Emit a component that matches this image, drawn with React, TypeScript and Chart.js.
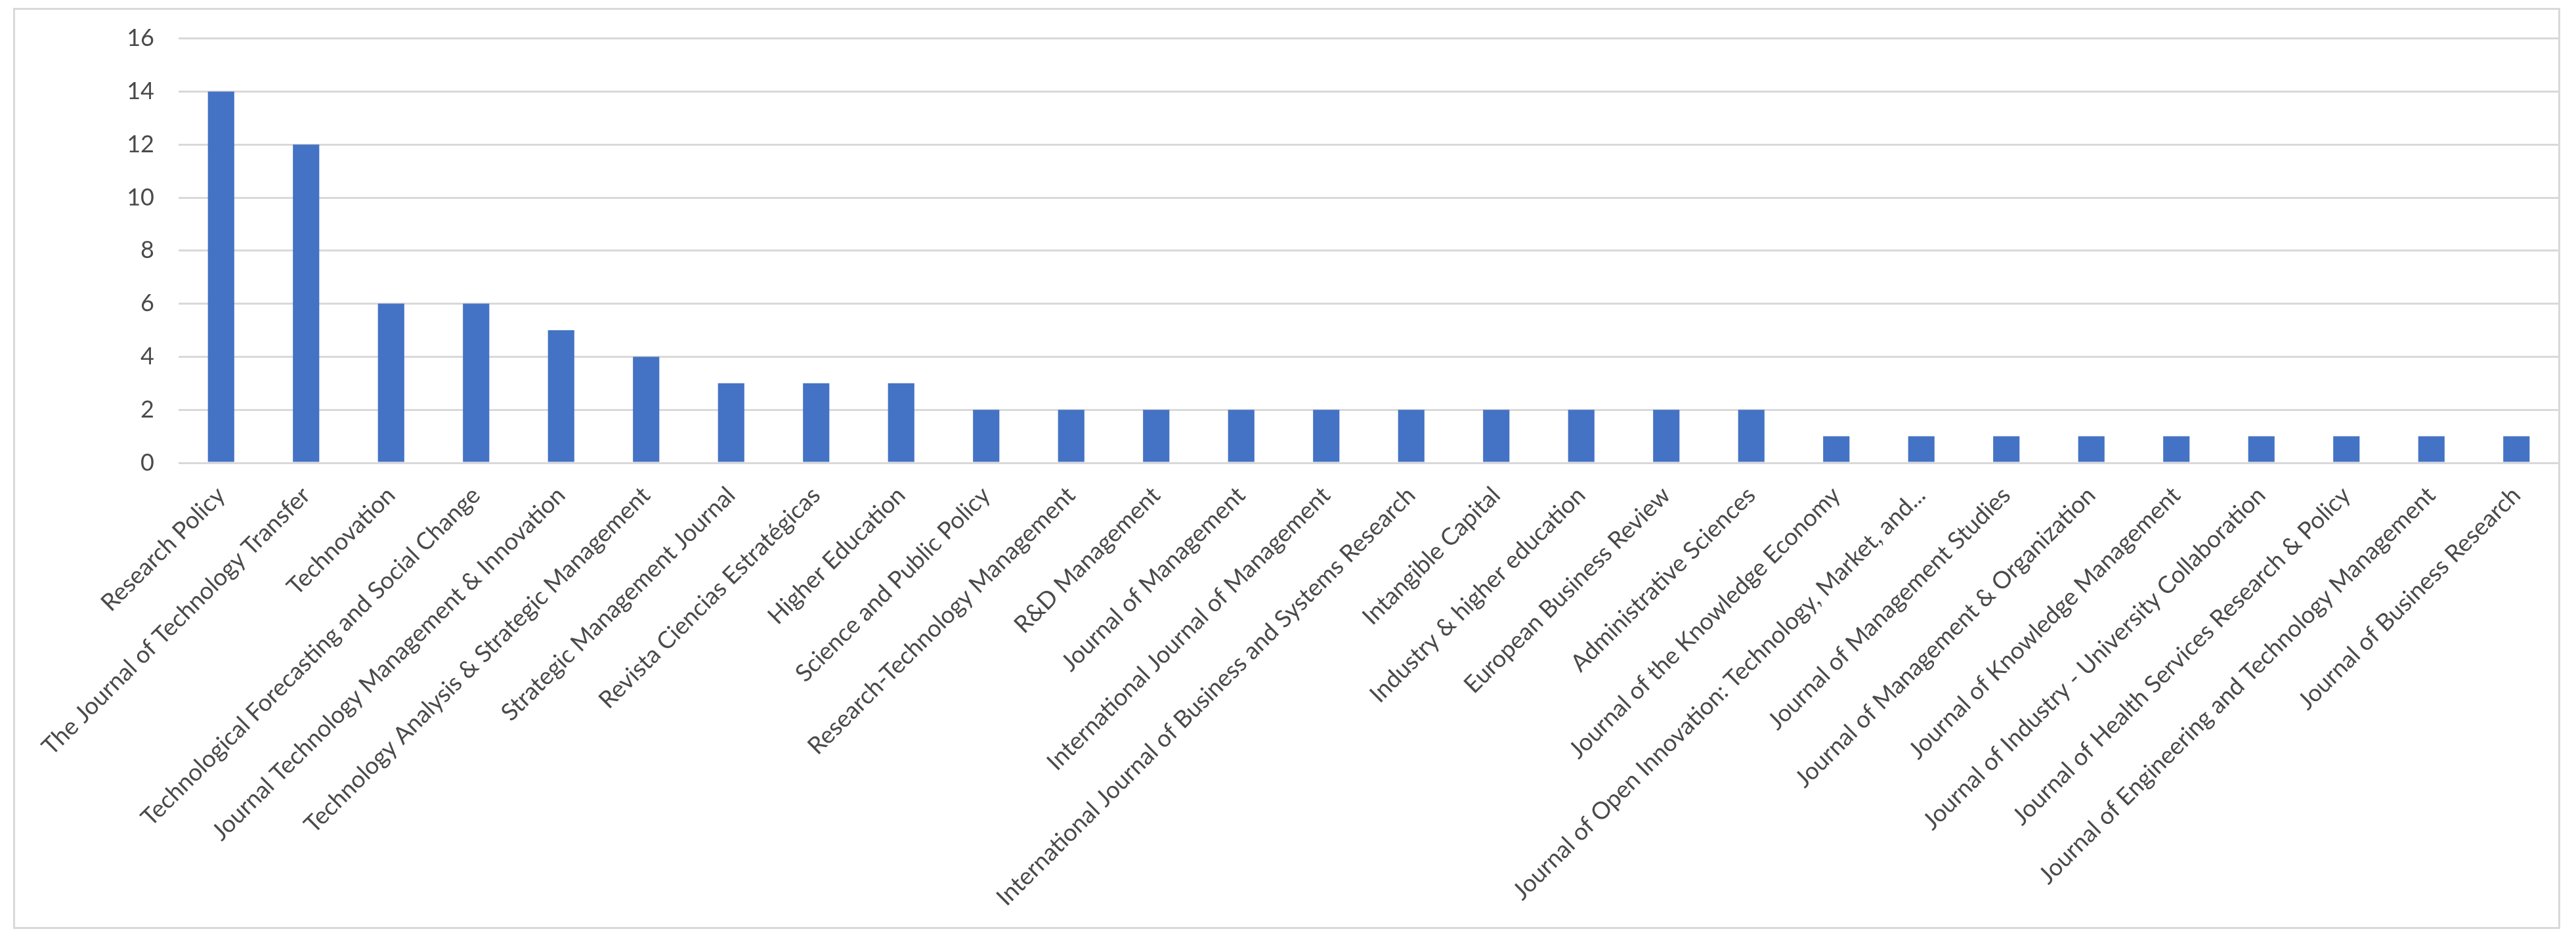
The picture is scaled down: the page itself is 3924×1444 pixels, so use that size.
import React, { useEffect, useRef } from "react";
import { Chart, registerables } from "chart.js";

Chart.register(...registerables);

const categories: string[] = [
  "Research Policy",
  "The Journal of Technology Transfer",
  "Technovation",
  "Technological Forecasting and Social Change",
  "Journal Technology Management & Innovation",
  "Technology Analysis & Strategic Management",
  "Strategic Management Journal",
  "Revista Ciencias Estratégicas",
  "Higher Education",
  "Science and Public Policy",
  "Research-Technology Management",
  "R&D Management",
  "Journal of Management",
  "International Journal of Management",
  "International Journal of Business and Systems Research",
  "Intangible Capital",
  "Industry & higher education",
  "European Business Review",
  "Administrative Sciences",
  "Journal of the Knowledge Economy",
  "Journal of Open Innovation: Technology, Market, and...",
  "Journal of Management Studies",
  "Journal of Management & Organization",
  "Journal of Knowledge Management",
  "Journal of Industry - University Collaboration",
  "Journal of Health Services Research & Policy",
  "Journal of Engineering and Technology Management",
  "Journal of Business Research",
];

const counts: number[] = [
  14, 12, 6, 6, 5, 4, 3, 3, 3, 2, 2, 2, 2, 2, 2, 2, 2, 2, 2, 1, 1, 1, 1, 1, 1, 1, 1, 1,
];

const yMin = 0;
const yMax = 16;
const yStep = 2;

const W = 3924;
const H = 1444;

const frame = {
  id: "frame",
  beforeDraw(chart: any) {
    const ctx = chart.ctx;
    ctx.save();
    ctx.fillStyle = "#ffffff";
    ctx.fillRect(0, 0, chart.width, chart.height);
    ctx.strokeStyle = "#d9d9d9";
    ctx.lineWidth = 3;
    ctx.strokeRect(21.5, 13.5, 3877, 1400);
    ctx.restore();
  },
};

export default function App() {
  const ref = useRef<HTMLCanvasElement | null>(null);

  useEffect(() => {
    if (!ref.current) return;
    const chart = new Chart(ref.current, {
      type: "bar",
      data: {
        labels: categories,
        datasets: [
          {
            data: counts,
            backgroundColor: "#4472C4",
            borderWidth: 0,
            barPercentage: 0.31,
            categoryPercentage: 1,
          },
        ],
      },
      options: {
        responsive: false,
        animation: false,
        devicePixelRatio: 1,
        layout: { padding: { top: 57, right: 26, left: 0, bottom: 0 } },
        plugins: {
          legend: { display: false },
          tooltip: { enabled: false },
        },
        scales: {
          x: {
            grid: { display: false, drawTicks: false },
            border: { display: false },
            ticks: {
              autoSkip: false,
              maxRotation: 45,
              minRotation: 45,
              padding: 28,
              color: "#4a4a4a",
              font: { family: "Lato", size: 36.5 },
            },
            afterFit(scale: any) {
              scale.height = H - 705;
            },
          },
          y: {
            min: yMin,
            max: yMax,
            grid: { color: "#d9d9d9", lineWidth: 3, drawTicks: false },
            border: { display: false },
            ticks: {
              stepSize: yStep,
              padding: 37,
              color: "#4a4a4a",
              font: { family: "Lato", size: 36 },
            },
            afterFit(scale: any) {
              scale.width = 272;
            },
          },
        },
      },
      plugins: [frame],
    });
    return () => chart.destroy();
  }, []);

  return (
    <div style={{ position: "fixed", left: 0, top: 0, width: W, height: H, background: "#fff" }}>
      <canvas ref={ref} width={W} height={H} style={{ display: "block", width: W, height: H }} />
    </div>
  );
}
